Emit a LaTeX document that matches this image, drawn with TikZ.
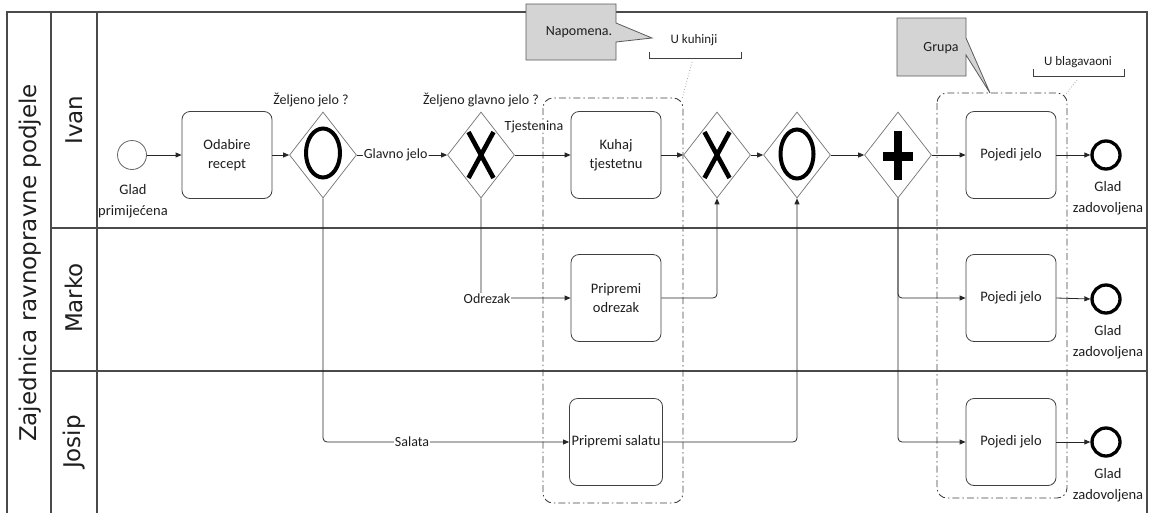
\documentclass[tikz,border=0pt]{standalone}
\usepackage{fontspec}
\setmainfont{Carlito}
\newfontfamily\lanefont{DejaVu Sans}
\usetikzlibrary{shapes.geometric,arrows.meta}
\definecolor{framec}{HTML}{4A4A4A}
\definecolor{notefill}{HTML}{D4D4D4}
\definecolor{txt}{HTML}{1E1E1E}
\begin{document}
\begin{tikzpicture}[x=1pt,y=-1pt,
  every node/.style={text=txt},
  frameline/.style={draw=framec,line width=1.2pt},
  flow/.style={draw=black!85,line width=0.8pt,rounded corners=4pt,-{Triangle[length=6pt,width=5pt]}},
  task/.style={draw=black!75,fill=white,rounded corners=8pt,minimum width=90pt,minimum height=87pt,line width=0.8pt,align=center,font=\fontsize{14.5}{19}\selectfont,inner sep=2pt},
  gw/.style={diamond,draw=black!55,fill=white,line width=0.7pt,minimum width=67pt,minimum height=86pt,inner sep=0pt},
  lbl/.style={font=\fontsize{14}{16}\selectfont,inner sep=1pt},
  evlbl/.style={font=\fontsize{14.5}{20.5}\selectfont,align=center,inner sep=0pt},
  lanelbl/.style={font=\lanefont\fontsize{23}{26}\selectfont,rotate=90},
  groupbox/.style={draw=black!75,line width=0.9pt,rounded corners=10pt,dash pattern=on 7pt off 3pt on 1.5pt off 3pt},
  note/.style={draw=black!65,fill=notefill,line width=0.8pt},
  bracket/.style={draw=black!75,line width=0.9pt},
  assoc/.style={draw=black!35,line width=0.8pt,dotted},
  gwmark/.style={draw=black,line width=4pt}
]
\useasboundingbox (0,0) rectangle (1150,512);

% pool and lanes
\draw[frameline] (7,12) rectangle (1147,530);
\draw[frameline] (51,12) -- (51,530);
\draw[frameline] (97,12) -- (97,530);
\draw[frameline] (51,228) -- (1147,228);
\draw[frameline] (51,371) -- (1147,371);
\node[lanelbl] (pool) at (30,263) {Zajednica ravnopravne podjele};
\node[lanelbl] (lIvan) at (74,120) {Ivan};
\node[lanelbl] (lMarko) at (74,298) {Marko};
\node[lanelbl] (lJosip) at (74,442) {Josip};

% groups
\draw[groupbox] (543,98) rectangle (683,503);
\draw[groupbox] (937,93) rectangle (1067,498);

% annotations
\draw[note] (526,4) -- (616,4) -- (616,23) -- (652,38) -- (616,42) -- (616,60) -- (526,60) -- cycle;
\node[lbl] (napomena) at (579,32) {Napomena.};
\draw[bracket] (649,52) -- (649,58) -- (741,58) -- (741,52);
\node[lbl,font=\fontsize{13}{15}\selectfont] (ukuhinji) at (694,40) {U kuhinji};
\draw[assoc] (692,62) -- (682,99);

\draw[note] (897,18) -- (966,18) -- (966,38) -- (990,93) -- (966,55) -- (966,76) -- (897,76) -- cycle;
\node[lbl] (grupa) at (941,48) {Grupa};
\draw[bracket] (1033,69) -- (1033,76) -- (1124,76) -- (1124,69);
\node[lbl,font=\fontsize{13}{15}\selectfont] (ublag) at (1078,62) {U blagavaoni};
\draw[assoc] (1077,80) -- (1066,94);

% Ivan lane
\node[circle,draw=black!60,fill=white,line width=0.8pt,minimum size=29pt,inner sep=0pt] (start) at (132,155) {};
\node[evlbl] (startl) at (133,201) {Glad\\primijećena};
\node[task] (odabire) at (227,155) {Odabire\\recept};
\node[gw] (gO) at (323,155) {};
\node[lbl] (gOl) at (311,100) {Željeno jelo ?};
\node[gw] (gX) at (481,155) {};
\node[lbl] (gXl) at (481,100) {Željeno glavno jelo ?};
\node[task] (kuhaj) at (616,155) {Kuhaj\\tjestetnu};
\node[gw] (gX2) at (717,155) {};
\node[gw] (gO2) at (797,155) {};
\node[gw] (gP) at (898,155) {};
\node[task] (pojI) at (1011,155) {Pojedi jelo};
\node[circle,draw=black,fill=white,line width=3.3pt,minimum size=28pt,inner sep=0pt] (endI) at (1106,155) {};
\node[evlbl] (endIl) at (1108,198) {Glad\\zadovoljena};

% Marko lane
\node[task] (odrezak) at (616,298) {Pripremi\\odrezak};
\node[task] (pojM) at (1011,298) {Pojedi jelo};
\node[circle,draw=black,fill=white,line width=3.3pt,minimum size=28pt,inner sep=0pt] (endM) at (1106,299) {};
\node[evlbl] (endMl) at (1108,342) {Glad\\zadovoljena};

% Josip lane
\node[task] (salatu) at (616,442) {Pripremi salatu};
\node[task] (pojJ) at (1011,442) {Pojedi jelo};
\node[circle,draw=black,fill=white,line width=3.3pt,minimum size=28pt,inner sep=0pt] (endJ) at (1106,442) {};
\node[evlbl] (endJl) at (1108,485) {Glad\\zadovoljena};

% gateway markers
\draw[gwmark] ([yshift=2pt]gO.center) ellipse [x radius=17pt,y radius=24.5pt];
\draw[gwmark] ([yshift=1pt]gO2.center) ellipse [x radius=16.5pt,y radius=24.5pt];
\draw[gwmark,line width=4.6pt] ([shift={(-12.5,-23)}]gX.center) -- ([shift={(12.5,23)}]gX.center);
\draw[gwmark,line width=4.6pt] ([shift={(12.5,-23)}]gX.center) -- ([shift={(-12.5,23)}]gX.center);
\draw[gwmark,line width=4.6pt] ([shift={(-12.5,-23)}]gX2.center) -- ([shift={(12.5,23)}]gX2.center);
\draw[gwmark,line width=4.6pt] ([shift={(12.5,-23)}]gX2.center) -- ([shift={(-12.5,23)}]gX2.center);
\draw[gwmark,line width=8pt] ([shift={(0,-24)}]gP.center) -- ([shift={(0,25)}]gP.center);
\draw[gwmark,line width=9pt] ([shift={(-15,1)}]gP.center) -- ([shift={(15,1)}]gP.center);

% flows
\draw[flow] (start) -- (odabire);
\draw[flow] (odabire) -- (gO);
\draw[flow] (gO.east) -- node[lbl,fill=white,pos=0.43] (glavno) {Glavno jelo} (gX.west);
\draw[flow] (gX.east) -- (kuhaj.west);
\node[lbl] (tjest) at (534,127) {Tjestenina};
\draw[flow] (kuhaj.east) -- (gX2.west);
\draw[flow] (gX2.east) -- (gO2.west);
\draw[flow] (gO2.east) -- (gP.west);
\draw[flow] (gP.east) -- (pojI.west);
\draw[flow] (pojI.east) -- (endI.west);

\draw[flow] (gX.south) |- (odrezak.west);
\node[lbl,fill=white] (odrl) at (487,299) {Odrezak};
\draw[flow] (odrezak.east) -| (gX2.south);

\draw[flow] (gO.south) |- (salatu.west);
\node[lbl,fill=white] (salatal) at (412,442) {Salata};
\draw[flow] (salatu.east) -| (gO2.south);

\draw[flow] (gP.south) |- (pojM.west);
\draw[flow] (gP.south) |- (pojJ.west);
\draw[flow] (pojM.east) -- (endM.west);
\draw[flow] (pojJ.east) -- (endJ.west);
\end{tikzpicture}
\end{document}
